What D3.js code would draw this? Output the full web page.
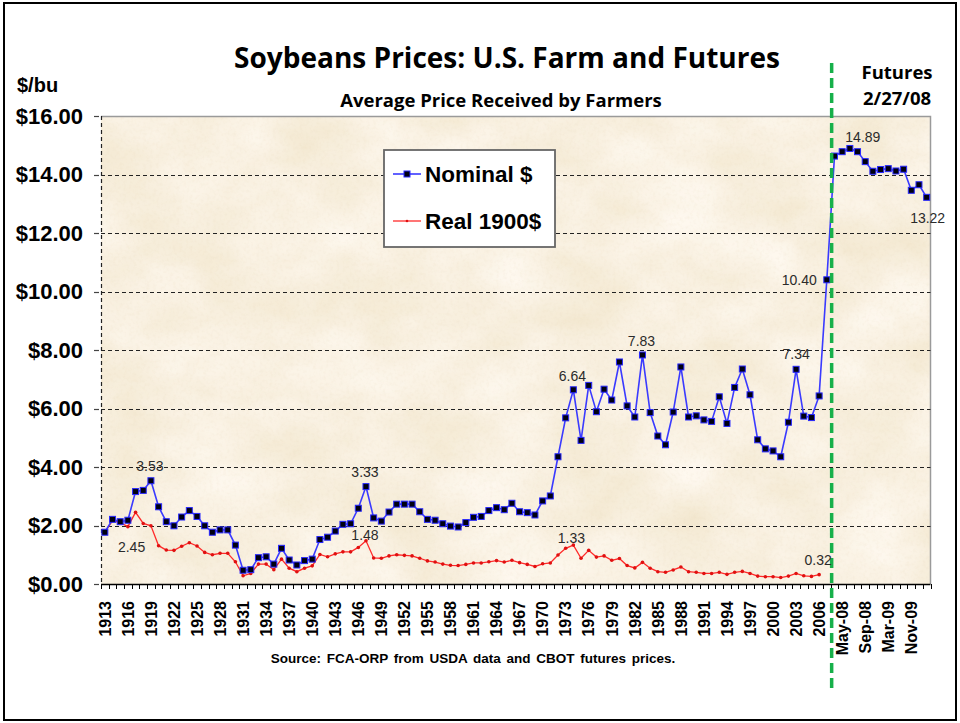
<!DOCTYPE html>
<html>
<head>
<meta charset="utf-8">
<script src="https://cdn.jsdelivr.net/npm/d3@7/dist/d3.min.js"></script>
<style>
  html, body { margin: 0; padding: 0; background: #fff; }
  svg { display: block; }
</style>
</head>
<body>
<svg id="chart" width="960" height="723"></svg>
<script>
// ---------------- DATA ----------------
const years = ["1913","1914","1915","1916","1917","1918","1919","1920","1921","1922","1923","1924","1925","1926","1927","1928","1929","1930","1931","1932","1933","1934","1935","1936","1937","1938","1939","1940","1941","1942","1943","1944","1945","1946","1947","1948","1949","1950","1951","1952","1953","1954","1955","1956","1957","1958","1959","1960","1961","1962","1963","1964","1965","1966","1967","1968","1969","1970","1971","1972","1973","1974","1975","1976","1977","1978","1979","1980","1981","1982","1983","1984","1985","1986","1987","1988","1989","1990","1991","1992","1993","1994","1995","1996","1997","1998","1999","2000","2001","2002","2003","2004","2005","2006","2007"];
const futuresMonths = ["Mar-08","May-08","Jul-08","Aug-08","Sep-08","Nov-08","Jan-09","Mar-09","May-09","Jul-09","Nov-09","Jul-10","Nov-10"];
const categories = years.concat(futuresMonths);

// Nominal $ (1913-2007 farm prices, then CBOT futures as of 2/27/08)
const nominal = [1.77,2.21,2.13,2.18,3.16,3.20,3.53,2.64,2.13,1.99,2.29,2.51,2.31,1.99,1.77,1.85,1.85,1.33,0.47,0.49,
  0.90,0.93,0.68,1.22,0.82,0.65,0.80,0.85,1.52,1.60,1.81,2.04,2.06,2.59,3.33,2.26,2.15,2.46,2.73,2.73,
  2.73,2.47,2.21,2.18,2.06,1.98,1.95,2.10,2.28,2.31,2.51,2.61,2.54,2.76,2.47,2.44,2.36,2.84,3.01,4.35,
  5.68,6.64,4.91,6.79,5.89,6.66,6.29,7.59,6.09,5.71,7.83,5.86,5.06,4.76,5.88,7.42,5.71,5.75,5.61,5.56,
  6.40,5.49,6.72,7.35,6.47,4.93,4.62,4.55,4.35,5.53,7.34,5.74,5.69,6.43,10.40,
  14.63,14.78,14.89,14.78,14.44,14.11,14.17,14.20,14.12,14.18,13.46,13.65,13.22];

// Real 1900$ (1913-2006)
const real = [1.77,2.17,2.10,1.96,2.45,2.07,1.99,1.31,1.16,1.15,1.29,1.41,1.30,1.08,1.00,1.05,1.05,0.76,0.28,0.36,
  0.68,0.68,0.49,0.85,0.54,0.42,0.54,0.62,1.01,0.93,1.03,1.10,1.10,1.25,1.48,0.89,0.88,0.96,1.00,0.98,
  0.96,0.88,0.79,0.75,0.68,0.64,0.63,0.67,0.72,0.72,0.76,0.80,0.75,0.81,0.73,0.67,0.60,0.69,0.72,0.99,
  1.22,1.33,0.88,1.15,0.92,0.96,0.81,0.87,0.63,0.55,0.74,0.54,0.42,0.40,0.48,0.58,0.42,0.40,0.36,0.36,
  0.40,0.33,0.40,0.43,0.36,0.27,0.25,0.25,0.22,0.27,0.36,0.28,0.26,0.32];

const yTicks = [0,2,4,6,8,10,12,14,16];

// Data labels: series, category index
const labelSeries = ["nominal","real","nominal","real","nominal","real","nominal","nominal","real","nominal","nominal","nominal"];
const labelIndex  = [6,4,34,34,61,61,70,90,93,94,97,107];

const seriesNames = ["Nominal $","Real 1900$"];
const futuresStartIndex = 95;

// ---------------- LAYOUT ----------------
const svg = d3.select("#chart");
const plot = {left: 101, right: 930.5, top: 116, bottom: 584};

const x = d3.scaleBand().domain(categories).range([plot.left, plot.right]).paddingInner(0).paddingOuter(0);
const y = d3.scaleLinear().domain([0,16]).range([plot.bottom, plot.top]);
const cx = i => x(categories[i]) + x.bandwidth()/2;

// outer frame
svg.append("rect").attr("x",4).attr("y",3).attr("width",952).attr("height",717)
  .attr("fill","#fff").attr("stroke","#000").attr("stroke-width",2);

// parchment texture
const defs = svg.append("defs");
const f = defs.append("filter").attr("id","paper").attr("x",0).attr("y",0).attr("width",1).attr("height",1);
f.append("feTurbulence").attr("type","fractalNoise").attr("baseFrequency","0.011 0.015")
  .attr("numOctaves",5).attr("seed",7).attr("result","n");
f.append("feColorMatrix").attr("in","n").attr("type","matrix")
  .attr("values","0.14 0 0 0 0.875  0.20 0 0 0 0.775  0.34 0 0 0 0.58  0 0 0 0 1").attr("result","c");
f.append("feComposite").attr("in","c").attr("in2","SourceGraphic").attr("operator","in");

const f2 = defs.append("filter").attr("id","grain").attr("x",0).attr("y",0).attr("width",1).attr("height",1);
f2.append("feTurbulence").attr("type","fractalNoise").attr("baseFrequency","0.3")
  .attr("numOctaves",2).attr("seed",3).attr("result","g");
f2.append("feColorMatrix").attr("in","g").attr("type","matrix")
  .attr("values","0 0 0 0 0.75  0 0 0 0 0.62  0 0 0 0 0.42  0.8 0 0 0 -0.36").attr("result","gc");
f2.append("feComposite").attr("in","gc").attr("in2","SourceGraphic").attr("operator","in");

svg.append("rect").attr("x",plot.left).attr("y",plot.top)
  .attr("width",plot.right-plot.left).attr("height",plot.bottom-plot.top)
  .attr("fill","#EEDCB6").attr("filter","url(#paper)");
svg.append("rect").attr("x",plot.left).attr("y",plot.top)
  .attr("width",plot.right-plot.left).attr("height",plot.bottom-plot.top)
  .attr("fill","#fff").attr("filter","url(#grain)").attr("opacity",0.35);

// plot border (top / right)
svg.append("path")
  .attr("d",`M${plot.left},${plot.top+0.5}H${plot.right}V${plot.bottom}`)
  .attr("fill","none").attr("stroke","#9a9a9a").attr("stroke-width",1.5);

// gridlines
svg.append("g").selectAll("line").data(yTicks.filter(t => t>0 && t<16)).join("line")
  .attr("x1",plot.left).attr("x2",plot.right)
  .attr("y1",d=>Math.round(y(d))+0.5).attr("y2",d=>Math.round(y(d))+0.5)
  .attr("stroke","#222").attr("stroke-width",1).attr("stroke-dasharray","4,3");

// left axis (dashed) and y ticks
svg.append("line").attr("x1",plot.left+0.5).attr("x2",plot.left+0.5)
  .attr("y1",plot.top).attr("y2",plot.bottom)
  .attr("stroke","#222").attr("stroke-width",1.2).attr("stroke-dasharray","4,3");
svg.append("g").selectAll("line").data(yTicks).join("line")
  .attr("x1",94).attr("x2",99)
  .attr("y1",d=>Math.round(y(d))+0.5).attr("y2",d=>Math.round(y(d))+0.5)
  .attr("stroke","#444").attr("stroke-width",1.2);
svg.append("g").selectAll("text").data(yTicks).join("text")
  .attr("x",83).attr("y",d=>y(d)).attr("dy","0.36em")
  .attr("text-anchor","end")
  .attr("font-family","Liberation Sans, Arial, sans-serif").attr("font-weight","bold")
  .attr("font-size",22).attr("fill","#000")
  .text(d=>"$"+d.toFixed(2));

// bottom axis
const xAxis = d3.axisBottom(x)
  .tickValues(categories.filter((c,i)=>i%3===0))
  .tickSize(0).tickPadding(0);
const gx = svg.append("g").attr("transform",`translate(0,${plot.bottom})`).call(xAxis);
gx.select(".domain").remove();
gx.selectAll("text")
  .attr("transform","rotate(-90)")
  .attr("x",-17).attr("y",0).attr("dy","0.36em")
  .attr("text-anchor","end")
  .attr("font-family","Liberation Sans, Arial, sans-serif").attr("font-weight","bold")
  .attr("font-size",16).attr("fill","#000");
svg.append("line").attr("x1",plot.left).attr("x2",plot.right)
  .attr("y1",plot.bottom+0.5).attr("y2",plot.bottom+0.5).attr("stroke","#000").attr("stroke-width",1.3);
const boundaries = categories.map(c=>x(c)).concat([plot.right]);
svg.append("g").selectAll("line").data(boundaries).join("line")
  .attr("x1",d=>Math.round(d)+0.5).attr("x2",d=>Math.round(d)+0.5)
  .attr("y1",plot.bottom).attr("y2",plot.bottom+5)
  .attr("stroke","#000").attr("stroke-width",1);

// lines
const line = d3.line().x((d,i)=>cx(i)).y(d=>y(d));
svg.append("path").datum(real).attr("d",line)
  .attr("fill","none").attr("stroke","#FF2A2A").attr("stroke-width",1.3);
svg.append("g").selectAll("circle").data(real).join("circle")
  .attr("cx",(d,i)=>cx(i)).attr("cy",d=>y(d)).attr("r",1.8)
  .attr("fill","#E01010");

svg.append("path").datum(nominal).attr("d",line)
  .attr("fill","none").attr("stroke","#3A3AFF").attr("stroke-width",1.6);
svg.append("g").selectAll("rect").data(nominal).join("rect")
  .attr("x",(d,i)=>cx(i)-3).attr("y",d=>y(d)-3).attr("width",6).attr("height",6)
  .attr("fill","#000010").attr("stroke","#2828FF").attr("stroke-width",1);

// green divider at start of futures
const gxPos = x(categories[futuresStartIndex]) + 1;
svg.append("line").attr("x1",gxPos).attr("x2",gxPos).attr("y1",63).attr("y2",693)
  .attr("stroke","#17B04A").attr("stroke-width",3.5).attr("stroke-dasharray","10,5");

// data labels
const placement = [
  {dx:-1,dy:-10,anchor:"middle"},{dx:-4,dy:40,anchor:"middle"},{dx:-1,dy:-10,anchor:"middle"},{dx:-1,dy:-1,anchor:"middle"},
  {dx:-1,dy:-9,anchor:"middle"},{dx:-2,dy:-2,anchor:"middle"},{dx:-1,dy:-9,anchor:"middle"},{dx:0,dy:-10,anchor:"middle"},
  {dx:-1,dy:-10,anchor:"middle"},{dx:-10,dy:5,anchor:"end"},{dx:13,dy:-6,anchor:"middle"},{dx:1,dy:26,anchor:"middle"}
];
const seriesData = {nominal, real};
svg.append("g").selectAll("text").data(labelIndex).join("text")
  .attr("x",(d,k)=>cx(d)+placement[k].dx)
  .attr("y",(d,k)=>y(seriesData[labelSeries[k]][d])+placement[k].dy)
  .attr("text-anchor",(d,k)=>placement[k].anchor)
  .attr("font-family","Liberation Sans, Arial, sans-serif").attr("font-size",14).attr("fill","#2b2b2b")
  .text((d,k)=>seriesData[labelSeries[k]][d].toFixed(2));

// legend
const lg = svg.append("g");
lg.append("rect").attr("x",384).attr("y",150).attr("width",171).attr("height",97)
  .attr("fill","#fff").attr("stroke","#666").attr("stroke-width",1.8);
lg.append("line").attr("x1",393).attr("x2",421).attr("y1",174).attr("y2",174).attr("stroke","#3A3AFF").attr("stroke-width",1.6);
lg.append("rect").attr("x",404).attr("y",171).attr("width",6).attr("height",6).attr("fill","#000010").attr("stroke","#2828FF");
lg.append("line").attr("x1",393).attr("x2",421).attr("y1",221).attr("y2",221).attr("stroke","#FF2A2A").attr("stroke-width",1.3);
lg.append("circle").attr("cx",407).attr("cy",221).attr("r",1.3).attr("fill","#E01010");
lg.selectAll("text.leg").data(seriesNames).join("text").attr("class","leg")
  .attr("x",425).attr("y",(d,i)=>i===0?182:229)
  .attr("font-family","Liberation Sans, Arial, sans-serif").attr("font-weight","bold")
  .attr("font-size",22.5).attr("fill","#000").text(d=>d);

// titles
const T = svg.append("g").attr("font-weight","bold").attr("fill","#000");
T.append("text").attr("x",507).attr("y",68).attr("text-anchor","middle")
  .attr("font-family","Open Sans, sans-serif").attr("font-size",28)
  .text("Soybeans Prices: U.S. Farm and Futures");
T.append("text").attr("x",501).attr("y",107).attr("text-anchor","middle")
  .attr("font-family","Open Sans, sans-serif").attr("font-size",18.5)
  .text("Average Price Received by Farmers");
T.append("text").attr("x",17).attr("y",92)
  .attr("font-family","Liberation Sans, Arial, sans-serif").attr("font-size",20)
  .text("$/bu");
T.append("text").attr("x",897).attr("y",79).attr("text-anchor","middle")
  .attr("font-family","Open Sans, sans-serif").attr("font-size",18.5).text("Futures");
T.append("text").attr("x",897).attr("y",105).attr("text-anchor","middle")
  .attr("font-family","Open Sans, sans-serif").attr("font-size",18.5).text("2/27/08");
T.append("text").attr("x",473).attr("y",663).attr("text-anchor","middle")
  .attr("font-family","Liberation Sans, Arial, sans-serif").attr("font-size",13.5).attr("word-spacing",2)
  .text("Source: FCA-ORP  from USDA data and CBOT futures prices.");
</script>
</body>
</html>
